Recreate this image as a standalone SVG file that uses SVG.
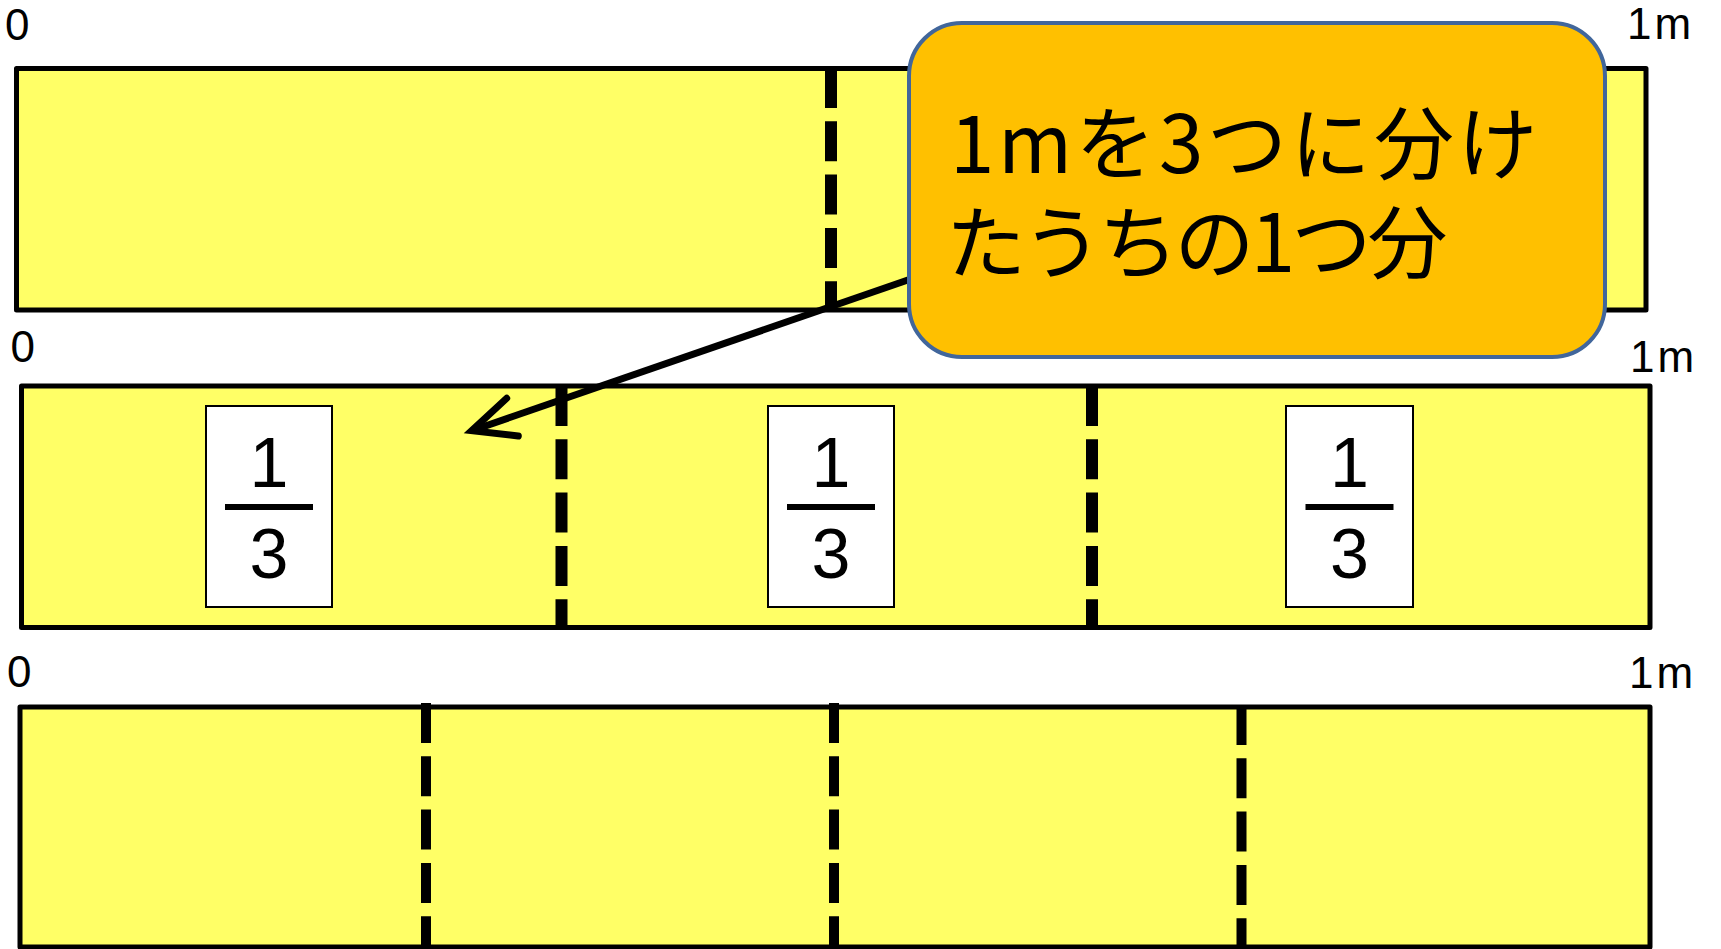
<svg xmlns="http://www.w3.org/2000/svg" width="1721" height="949" viewBox="0 0 1721 949">
<style>
.bar{fill:#FFFF66;stroke:#000;stroke-width:5;stroke-linejoin:round}
.dash{stroke:#000;stroke-width:12;stroke-dasharray:40 13.3;fill:none}
.dash3{stroke:#000;stroke-width:10;stroke-dasharray:40 13.3;fill:none}
.lbl{font-family:"Liberation Sans",Arial,sans-serif;font-size:44px;fill:#000}
.fbox{fill:#fff;stroke:#000;stroke-width:2}
.fnum{font-family:"Liberation Sans",Arial,sans-serif;font-size:70px;fill:#000;text-anchor:middle}
.fline{stroke:#000;stroke-width:6}
.call{fill:#FFC000;stroke:#41669B;stroke-width:4}
.ctext{font-family:"Noto Sans CJK JP","Noto Sans",sans-serif;font-size:80px;fill:#000}
.arrow{stroke:#000;stroke-width:7;fill:none}
</style>
<g id="bar1">
<rect class="bar" x="16.5" y="68.5" width="1629.5" height="241.5"/>
<line class="dash" x1="831" y1="68" x2="831" y2="310"/>
<text class="lbl" x="5" y="40">0</text>
<text class="lbl" x="1627" y="39" letter-spacing="3">1m</text>
</g>
<g id="bar2">
<rect class="bar" x="21.5" y="386" width="1628.5" height="241.5"/>
<line class="dash" x1="561.5" y1="386" x2="561.5" y2="627"/>
<line class="dash" x1="1092" y1="386" x2="1092" y2="627"/>
<text class="lbl" x="10.5" y="362">0</text>
<text class="lbl" x="1630" y="372" letter-spacing="3">1m</text>
</g>
<g id="frac1">
<rect class="fbox" x="206" y="406" width="126" height="201"/>
<text class="fnum" x="269" y="487">1</text>
<line class="fline" x1="225" y1="507" x2="313" y2="507"/>
<text class="fnum" x="269" y="577.5">3</text>
</g>
<g id="frac2">
<rect class="fbox" x="768" y="406" width="126" height="201"/>
<text class="fnum" x="831" y="487">1</text>
<line class="fline" x1="787" y1="507" x2="875" y2="507"/>
<text class="fnum" x="831" y="577.5">3</text>
</g>
<g id="frac3">
<rect class="fbox" x="1286" y="406" width="127" height="201"/>
<text class="fnum" x="1349.5" y="487">1</text>
<line class="fline" x1="1305.5" y1="507" x2="1393.5" y2="507"/>
<text class="fnum" x="1349.5" y="577.5">3</text>
</g>
<g id="bar3">
<rect class="bar" x="20" y="707" width="1630" height="240"/>
<line class="dash3" x1="426" y1="703" x2="426" y2="947"/>
<line class="dash3" x1="834" y1="703" x2="834" y2="947"/>
<line class="dash3" x1="1241.5" y1="705" x2="1241.5" y2="947"/>
<text class="lbl" x="7" y="687">0</text>
<text class="lbl" x="1629" y="688" letter-spacing="3">1m</text>
</g>
<g id="connectors">
<path class="arrow" d="M960,262 L471.7,430.7"/>
<path class="arrow" d="M506.7,398.3 L471.7,430.7 L518.3,436" stroke-linecap="round" stroke-linejoin="miter"/>
</g>
<g id="callout">
<rect class="call" x="909" y="23" width="696" height="334" rx="53" ry="53"/>
<text class="ctext"><tspan x="950" y="173" letter-spacing="3.5">1mを3つに分け</tspan><tspan x="946" y="272" letter-spacing="-3.8">たうちの1つ分</tspan></text>
</g>
</svg>
